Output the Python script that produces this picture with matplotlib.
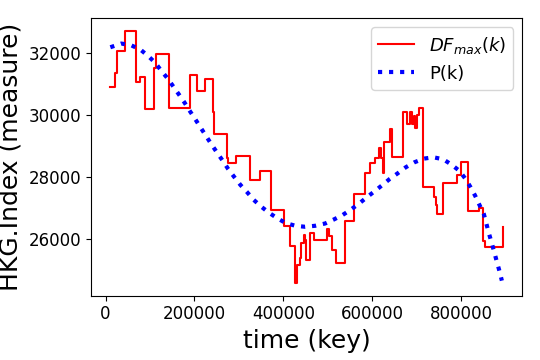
import matplotlib
matplotlib.use("Agg")
import matplotlib.pyplot as plt

# DF_max(k): step values (x = key where the step starts)
step_keys = [10600, 21800, 25600, 42800, 68400, 78200, 89400, 109700, 114200,
             141900, 189200, 205800, 223800, 241900, 244800, 273400, 276000,
             294400, 325900, 348400, 373200, 400900, 416000, 427300, 431100,
             437000, 440100, 446000, 448200, 452000, 461000, 468500, 498600,
             502300, 509900, 519600, 539900, 560000, 584900, 596200, 607400,
             614900, 620200, 624700, 627700, 639600, 645000, 669800, 677300,
             684700, 690100, 693700, 697500, 699800, 705000, 714800, 738700,
             742600, 746400, 759900, 791400, 798900, 815300, 840100, 850000,
             852900, 893500]
step_vals = [30875, 31344, 32040, 32695, 31055, 31196, 30177, 31505, 31955,
             30199, 31270, 30756, 31132, 30090, 29363, 28590, 28450,
             28666, 27894, 28183, 26929, 26400, 25749, 24572, 25161,
             25376, 25859, 26125, 25965, 25322, 26180, 25942, 26309,
             26071, 25621, 25216, 26585, 27444, 28129, 28431, 28611,
             28913, 28600, 28129, 29125, 29534, 28643, 30071, 29685,
             30071, 29685, 29950, 29560, 30000, 30219, 27659, 27338,
             27090, 26801, 27807, 28055, 28482, 26907, 26984, 25910,
             25730, 26373]

# P(k): points
poly_keys = [10600, 35400, 57200, 78200, 95500, 111900, 125500, 139600, 164400,
             177900, 189200, 202000, 214000, 226100, 238100, 250900, 263500,
             275700, 289900, 303400, 318500, 333300, 350000, 367100, 386000,
             405400, 427300, 449100, 471600, 494100, 513500, 533100, 551100,
             569800, 587200, 604500, 622500, 639600, 657700, 675700, 695300,
             716200, 737400, 759900, 778600, 796600, 810100, 821400, 832000,
             841700, 851400, 862600, 868700, 874800, 880600, 886700, 891900]
poly_vals = [32170, 32289, 32235, 32096, 31891, 31666, 31408, 31164, 30659,
             30379, 30122, 29846, 29576, 29309, 29042, 28772, 28514,
             28248, 27981, 27733, 27498, 27251, 27035, 26842, 26662,
             26502, 26415, 26383, 26415, 26489, 26617, 26759, 26929,
             27122, 27325, 27518, 27723, 27926, 28109, 28302, 28463,
             28579, 28624, 28559, 28386, 28183, 27926, 27659, 27379,
             27080, 26791, 26180, 25878, 25569, 25257, 24945, 24646]

fig = plt.figure(figsize=(5.4, 3.6), dpi=100)
ax = fig.add_axes([0.168, 0.179, 0.799, 0.770])

ax.step(step_keys, step_vals, where='post', color='red', lw=1.5,
        label=r'$DF_{max}(k)$')
ax.plot(poly_keys, poly_vals, ':', color='blue', lw=3, label='P(k)')

ax.set_xlabel('time (key)', fontsize=18)
ax.set_ylabel('HKG.Index (measure)', fontsize=18)
ax.set_xticks([0, 200000, 400000, 600000, 800000])
ax.set_yticks([26000, 28000, 30000, 32000])
ax.tick_params(labelsize=12)
ax.legend(loc='upper right', fontsize=13)

fig.savefig('out.png', dpi=100)
